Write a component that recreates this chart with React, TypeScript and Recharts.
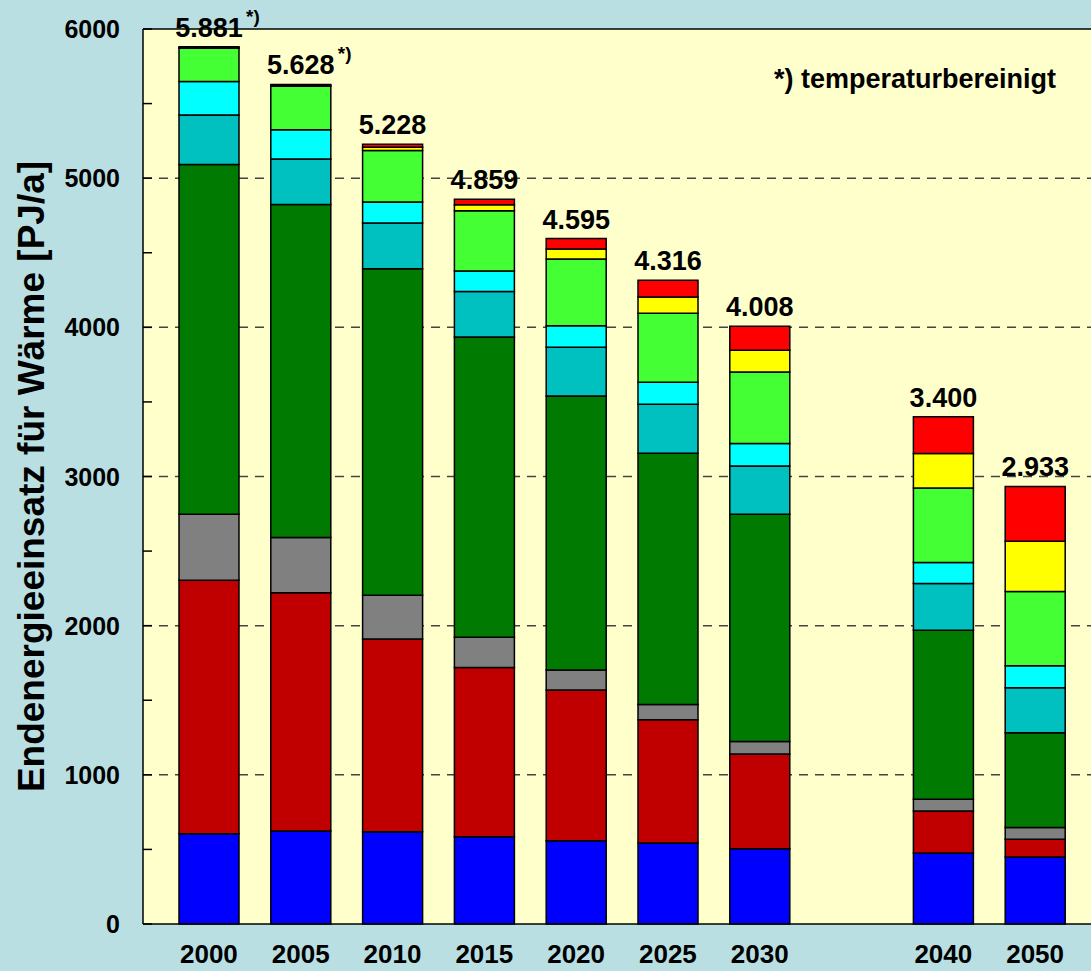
import { BarChart, Bar, XAxis, YAxis, CartesianGrid, ReferenceLine, LabelList, Label } from 'recharts';

// years, with an empty slot between 2030 and 2040
const years = ['2000', '2005', '2010', '2015', '2020', '2025', '2030', '', '2040', '2050'];

// stacked segments, bottom to top (PJ/a)
const blue = [605, 623, 618, 585, 558, 543, 505, null, 476, 449];
const darkRed = [1700, 1597, 1292, 1135, 1010, 826, 634, null, 282, 119];
const gray = [442, 371, 294, 203, 134, 103, 85, null, 79, 79];
const darkGreen = [2345, 2233, 2189, 2012, 1838, 1684, 1523, null, 1133, 635];
const teal = [331, 304, 306, 306, 326, 328, 324, null, 313, 301];
const cyan = [225, 197, 141, 136, 145, 148, 150, null, 140, 148];
const lightGreen = [223, 292, 346, 405, 447, 462, 479, null, 500, 498];
const yellow = [4, 5, 22, 40, 67, 109, 146, null, 231, 337];
const red = [6, 6, 20, 37, 70, 113, 162, null, 246, 367];

const totals = [5881, 5628, 5228, 4859, 4595, 4316, 4008, null, 3400, 2933];
const notes = ['*)', '*)', '', '', '', '', '', '', '', ''];

const yTicks = [0, 500, 1000, 1500, 2000, 2500, 3000, 3500, 4000, 4500, 5000, 5500, 6000];
const gridValues = [1000, 2000, 3000, 4000, 5000];

const series = [
  { key: 'blue', values: blue, color: '#0000ff' },
  { key: 'darkRed', values: darkRed, color: '#c00000' },
  { key: 'gray', values: gray, color: '#808080' },
  { key: 'darkGreen', values: darkGreen, color: '#007a00' },
  { key: 'teal', values: teal, color: '#00c0c0' },
  { key: 'cyan', values: cyan, color: '#00ffff' },
  { key: 'lightGreen', values: lightGreen, color: '#44ff33' },
  { key: 'yellow', values: yellow, color: '#ffff00' },
  { key: 'red', values: red, color: '#ff0000' },
];

const data = years.map((year, i) => {
  const row: Record<string, string | number | null> = { year, total: totals[i], note: notes[i] };
  series.forEach((s) => {
    row[s.key] = s.values[i];
  });
  return row;
});

const font = '"Liberation Sans", Arial, sans-serif';

const fmt = (v: number) => {
  const rest = String(v % 1000).padStart(3, '0');
  return `${Math.floor(v / 1000)}.${rest}`;
};

const YTick = (props: any) => {
  const { x, y, payload } = props;
  const v = payload.value;
  return (
    <g>
      <line x1={x + 23} x2={x + 32} y1={y} y2={y} stroke="#000" strokeWidth={1.5} />
      {v % 1000 === 0 && (
        <text x={x} y={y} textAnchor="end" dominantBaseline="central" fontSize={25} fontWeight="bold" fontFamily={font} fill="#000">
          {v}
        </text>
      )}
    </g>
  );
};

const TotalLabel = (props: any) => {
  const { x, y, width, value } = props;
  if (!value) return null;
  return (
    <text x={x + width / 2} y={y - 10} textAnchor="middle" fontSize={27} fontWeight="bold" fontFamily={font} fill="#000">
      {fmt(value)}
    </text>
  );
};

const NoteLabel = (props: any) => {
  const { x, y, width, value } = props;
  if (!value) return null;
  return (
    <text x={x + width / 2 + 37} y={y - 24} fontSize={19} fontWeight="bold" fontFamily={font} fill="#000">
      {value}
    </text>
  );
};

const YTitle = (props: any) => {
  const { viewBox } = props;
  const cy = viewBox.y + viewBox.height / 2;
  return (
    <text
      x={31}
      y={cy}
      transform={`rotate(-90, 31, ${cy})`}
      textAnchor="middle"
      dominantBaseline="central"
      fontSize={37}
      fontWeight="bold"
      fontFamily={font}
      fill="#000"
    >
      Endenergieeinsatz für Wärme [PJ/a]
    </text>
  );
};

export default function App() {
  return (
    <div style={{ position: 'absolute', left: 0, top: 0, width: 1091, height: 971, background: '#b9dfe3' }}>
      <BarChart width={1091} height={971} data={data} margin={{ top: 29, right: 0, bottom: 0, left: 0 }} barSize={60}>
        <CartesianGrid
          vertical={false}
          horizontalValues={gridValues}
          strokeDasharray="9 7"
          stroke="#444"
          strokeWidth={1.5}
          fill="#ffffcc"
          fillOpacity={1}
        />
        <XAxis
          dataKey="year"
          interval={0}
          tickLine={false}
          tickSize={0}
          tickMargin={21}
          height={47}
          padding={{ left: 20, right: 10 }}
          axisLine={{ stroke: '#000', strokeWidth: 1.5 }}
          tick={{ fontSize: 26, fontWeight: 'bold', fill: '#000', fontFamily: font }}
        />
        <YAxis
          domain={[0, 6000]}
          ticks={yTicks}
          interval={0}
          width={143}
          tickLine={false}
          tickSize={0}
          tickMargin={23}
          axisLine={{ stroke: '#000', strokeWidth: 1.5 }}
          tick={<YTick />}
        >
          <Label content={<YTitle />} />
        </YAxis>
        <ReferenceLine y={6000} stroke="#000" strokeWidth={1.5} />
        {series.map((s, i) => (
          <Bar key={s.key} dataKey={s.key} stackId="a" fill={s.color} stroke="#000" strokeWidth={1.5} isAnimationActive={false}>
            {i === series.length - 1 && <LabelList dataKey="total" content={<TotalLabel />} />}
            {i === series.length - 1 && <LabelList dataKey="note" content={<NoteLabel />} />}
          </Bar>
        ))}
        <text x={774} y={88} fontSize={27} fontWeight="bold" fontFamily={font} fill="#000">
          *) temperaturbereinigt
        </text>
      </BarChart>
    </div>
  );
}
